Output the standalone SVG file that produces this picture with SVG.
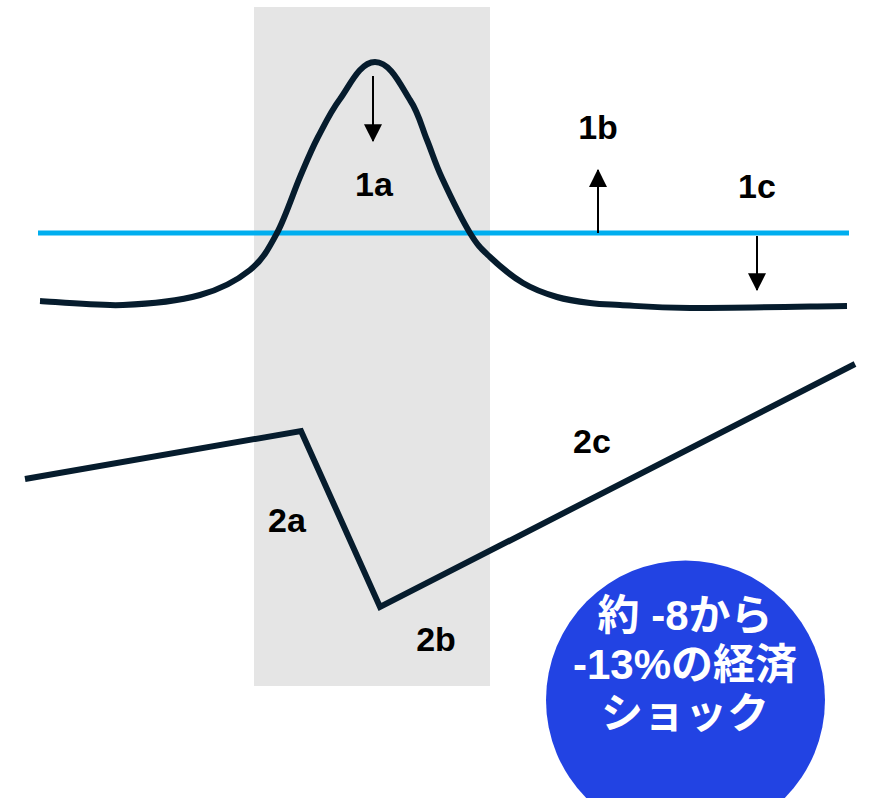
<svg xmlns="http://www.w3.org/2000/svg" width="869" height="798" viewBox="0 0 869 798">
<style>
.lbl{font-family:"Liberation Sans",Arial,sans-serif;font-weight:bold;font-size:34px;fill:#000;text-anchor:middle}
.curve{fill:none;stroke:#061c2d;stroke-width:6;stroke-linejoin:miter}
.arr{stroke:#000;stroke-width:2;fill:none}
.ctext{font-family:"Liberation Sans","Noto Sans CJK JP",sans-serif;font-weight:bold;font-size:42px;fill:#fff;text-anchor:middle}
</style>
<defs>
<marker id="ah" markerUnits="userSpaceOnUse" markerWidth="18" markerHeight="18" viewBox="0 0 16 16" refX="15" refY="8" orient="auto">
<path d="M0,0 L16,8 L0,16 Z" fill="#000"/>
</marker>
</defs>
<rect id="band" x="254" y="7" width="236" height="679" fill="#e5e5e5"/>
<g id="baseline-blue"><line x1="38" y1="233" x2="849" y2="233" stroke="#00aeef" stroke-width="5"/></g>
<g id="curve1"><path class="curve" d="M40,301 C53.8,301.7 96.3,306 123,305 C149.7,304 178.8,300.8 200,295 C221.2,289.2 237.2,280.3 250,270 C262.8,259.7 268.7,248.5 277,233 C285.3,217.5 293.2,193 300,177 C306.8,161 311.3,149.8 318,137 C324.7,124.2 331,111 340,99 C350,85 360,62 375,62 C390,62 400,84 410,100 C418.7,113 421.7,127 427,140 C432.3,153 434.8,162.5 442,178 C449.2,193.5 462,219.8 470,233 C478,246.2 481.2,248.7 490,257 C498.8,265.3 511.8,276.3 523,283 C534.2,289.7 545.8,293.7 557,297 C568.2,300.3 579.5,301.7 590,303 C600.5,304.3 603.3,304.2 620,305 C636.7,305.8 652.2,307.8 690,308 C727.8,308.2 820.8,306.3 847,306"/></g>
<g id="curve2"><polyline class="curve" points="25,479 301,431 380,607 855,364"/></g>
<g id="connectors">
<line class="arr" x1="373" y1="76" x2="373" y2="141" marker-end="url(#ah)"/>
<line class="arr" x1="598" y1="233" x2="598" y2="170" marker-end="url(#ah)"/>
<line class="arr" x1="757" y1="236" x2="757" y2="290" marker-end="url(#ah)"/>
</g>
<g id="label-1a"><text class="lbl" x="374" y="196">1a</text></g>
<g id="label-1b"><text class="lbl" x="598" y="139">1b</text></g>
<g id="label-1c"><text class="lbl" x="757" y="198">1c</text></g>
<g id="label-2a"><text class="lbl" x="287" y="532">2a</text></g>
<g id="label-2b"><text class="lbl" x="436" y="651">2b</text></g>
<g id="label-2c"><text class="lbl" x="592" y="453">2c</text></g>
<g id="shock-circle">
<circle cx="685.5" cy="700" r="139.5" fill="#2243e3"/>
<text class="ctext" x="685" y="630">約 -8から</text>
<text class="ctext" x="685" y="679">-13%の経済</text>
<text class="ctext" x="685" y="728">ショック</text>
</g>
</svg>
